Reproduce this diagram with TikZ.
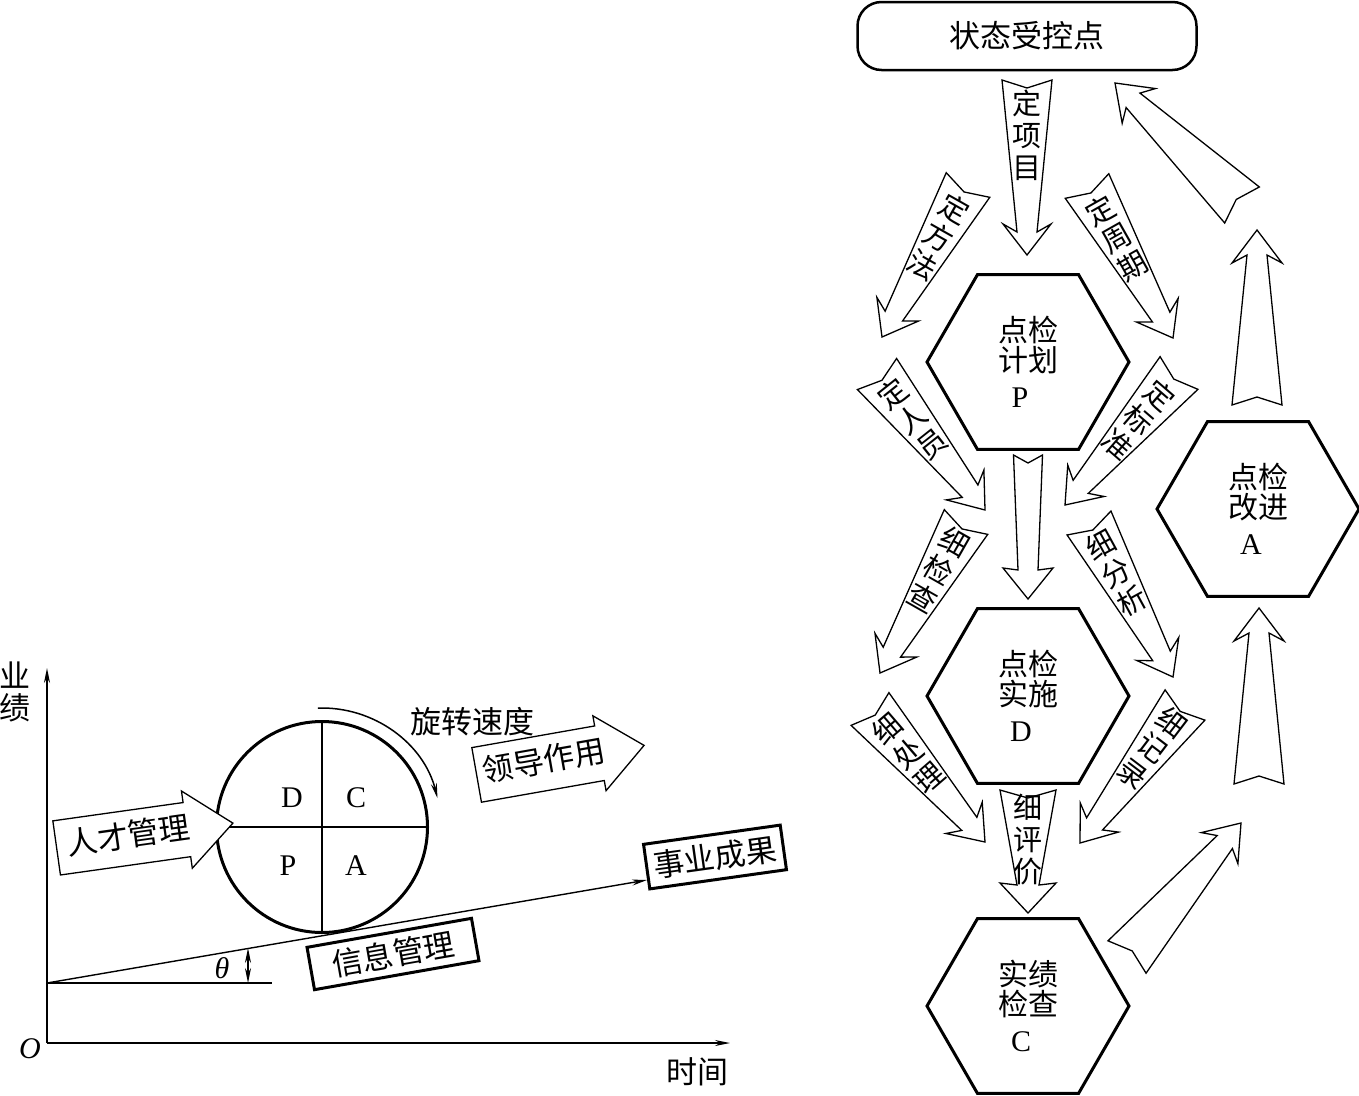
\documentclass[tikz,border=0pt]{standalone}
\usepackage{fontspec}
\setmainfont{Liberation Serif}
\newfontfamily\cjk{Noto Sans CJK SC}
\usetikzlibrary{calc,shapes.geometric,shapes.arrows,arrows.meta}

\newcommand\bigcjk{\cjk\fontsize{31}{32}\selectfont}
\newcommand\hexcjk{\cjk\fontsize{30}{30}\selectfont}
\newcommand\biglat{\fontsize{30}{32}\selectfont}

% tapered block arrow: tail, tip, tail/neck/barb half widths, neck and barb distance from tip
\newcommand\blockarrow[7]{%
  \coordinate (nk) at ($(#2)!#6!(#1)$);
  \coordinate (bb) at ($(#2)!#7!(#1)$);
  \coordinate (nt) at ($(#1)!8pt!(#2)$);
  \draw[barrow] ($(#1)!#3!90:(#2)$) -- ($(nk)!#4!90:(#2)$) -- ($(bb)!#5!90:(#2)$) -- (#2)
    -- ($(bb)!#5!-90:(#2)$) -- ($(nk)!#4!-90:(#2)$) -- ($(#1)!#3!-90:(#2)$) -- (nt) -- cycle;}
% stacked label along an arrow
\newcommand\arrowtext[5]{%
  \path let \p1=($(#3)-(#2)$), \n1={180-atan2(\x1,\y1)} in
    node[lbl, rotate=\n1] (#1) at ($(#2)!#4!(#3)$) {#5};}

\begin{document}
\begin{tikzpicture}[x=1pt, y=-1pt, >={Stealth[length=15pt,width=6pt]},
  hexa/.style={draw, line width=3pt, regular polygon, regular polygon sides=6, minimum size=202pt, inner sep=0pt, align=center, font=\hexcjk},
  barrow/.style={draw, line width=1.3pt, fill=white},
  lbl/.style={align=center, inner sep=0pt, font=\cjk\fontsize{29}{32}\selectfont},
  thinln/.style={line width=1.4pt},
  tagbox/.style={draw, line width=3pt, inner sep=0pt, font=\bigcjk},
  fatarrow/.style={draw, line width=1.3pt, fill=white, single arrow, single arrow tip angle=80, anchor=tail, inner xsep=4pt, text height=23pt, text depth=5pt, font=\bigcjk}]
\useasboundingbox (0,0) rectangle (1359,1095);

% left: performance chart
\coordinate (O) at (47,1043);
\coordinate (ytop) at (47,668);
\coordinate (xend) at (730,1043);
\draw[thinln, ->] (O) -- (ytop);
\draw[thinln, ->] (O) -- (xend);
\node[font=\bigcjk, align=center] (yname) at (15,692) {业\\绩};
\node[font=\biglat] (origin) at (30,1049) {\itshape O};
\node[font=\bigcjk] (xname) at (697,1072) {时间};

\coordinate (base) at (47,983);
\coordinate (baseend) at (272,983);
\coordinate (incl) at (647,880);
\draw[thinln] (base) -- (baseend);
\draw[thinln, ->] (base) -- (incl);
\coordinate (thtop) at (248,948);
\coordinate (thbot) at (248,983);
\draw[thinln, <->] (thtop) -- (thbot);
\node[font=\biglat] (theta) at (222,968) {\itshape θ};

\node[circle, draw, line width=3pt, minimum size=211pt, inner sep=0pt] (pdca) at (322,827) {};
\draw[thinln] (pdca.north) -- (pdca.south);
\draw[thinln] (pdca.west) -- (pdca.east);
\node[font=\biglat] (qD) at (292,798) {D};
\node[font=\biglat] (qC) at (356,798) {C};
\node[font=\biglat] (qP) at (288,866) {P};
\node[font=\biglat] (qA) at (356,866) {A};
\draw[line width=1.5pt, ->] ($(pdca.center)+(92:119pt)$) arc[start angle=92, end angle=14, radius=119pt];
\node[font=\bigcjk] (speed) at (472,722) {旋转速度};

\node[fatarrow, rotate=8, minimum height=178pt, minimum width=78pt, inner ysep=2pt] (talent) at (56,848) {人才管理};
\node[fatarrow, rotate=10, minimum height=170pt, minimum width=76pt, inner ysep=4.5pt] (lead) at (476,775) {领导作用};
\node[tagbox, rotate=10, minimum width=167pt, minimum height=43pt] (info) at (393,954) {信息管理};
\node[tagbox, rotate=8, minimum width=138pt, minimum height=45pt] (result) at (715,857) {事业成果};

% right: inspection cycle
\node[draw, rounded corners=24pt, line width=2.5pt, minimum width=339pt, minimum height=68pt, font=\bigcjk] (state) at (1027,36) {状态受控点};
\node[hexa] (P) at (1028,362) {点检\\计划\\[6pt]{\rmfamily P\hspace*{16pt}}};
\node[hexa] (D) at (1028,696) {点检\\实施\\[6pt]{\rmfamily D\hspace*{14pt}}};
\node[hexa] (C) at (1028,1006) {实绩\\检查\\[6pt]{\rmfamily C\hspace*{14pt}}};
\node[hexa] (A) at (1258,509) {点检\\改进\\[6pt]{\rmfamily A\hspace*{14pt}}};

\coordinate (xiangmuT) at (1027,80);   \coordinate (xiangmuH) at (1027,255);
\coordinate (fangfaT) at (968,185);    \coordinate (fangfaH) at (882,337);
\coordinate (zhouqiT) at (1087,186);   \coordinate (zhouqiH) at (1173,338);
\coordinate (renyuanT) at (877,374);   \coordinate (renyuanH) at (985,510);
\coordinate (biaozhunT) at (1179,373); \coordinate (biaozhunH) at (1065,505);
\coordinate (pdT) at (1028,455);       \coordinate (pdH) at (1028,599);
\coordinate (jianchaT) at (966,522);   \coordinate (jianchaH) at (880,673);
\coordinate (fenxiT) at (1089,523);    \coordinate (fenxiH) at (1173,677);
\coordinate (chuliT) at (870,709);     \coordinate (chuliH) at (985,842);
\coordinate (jiluT) at (1185,705);     \coordinate (jiluH) at (1080,843);
\coordinate (pingjiaT) at (1028,790);  \coordinate (pingjiaH) at (1028,913);
\coordinate (caT) at (1127,957);       \coordinate (caH) at (1241,823);
\coordinate (aupT) at (1259,784);      \coordinate (aupH) at (1259,608);
\coordinate (atopT) at (1257,405);     \coordinate (atopH) at (1257,230);
\coordinate (astateT) at (1242,205);   \coordinate (astateH) at (1115,83);

\blockarrow{xiangmuT}{xiangmuH}{25pt}{10pt}{24pt}{23pt}{31pt}
\blockarrow{fangfaT}{fangfaH}{25pt}{10pt}{24pt}{24pt}{32pt}
\blockarrow{zhouqiT}{zhouqiH}{25pt}{10pt}{24pt}{24pt}{32pt}
\blockarrow{renyuanT}{renyuanH}{25pt}{10pt}{24pt}{24pt}{32pt}
\blockarrow{biaozhunT}{biaozhunH}{25pt}{10pt}{24pt}{24pt}{32pt}
\blockarrow{pdT}{pdH}{14.5pt}{10pt}{25pt}{29pt}{31pt}
\blockarrow{jianchaT}{jianchaH}{25pt}{10pt}{24pt}{24pt}{32pt}
\blockarrow{fenxiT}{fenxiH}{25pt}{10pt}{24pt}{24pt}{32pt}
\blockarrow{chuliT}{chuliH}{25pt}{10pt}{24pt}{24pt}{32pt}
\blockarrow{jiluT}{jiluH}{25pt}{10pt}{24pt}{24pt}{32pt}
\blockarrow{pingjiaT}{pingjiaH}{28pt}{11pt}{28pt}{28pt}{30pt}
\blockarrow{caT}{caH}{25pt}{10pt}{24pt}{25pt}{33pt}
\blockarrow{aupT}{aupH}{25pt}{10pt}{25pt}{25pt}{33pt}
\blockarrow{atopT}{atopH}{25pt}{10pt}{25pt}{25pt}{33pt}
\blockarrow{astateT}{astateH}{25pt}{10pt}{24pt}{25pt}{33pt}

\arrowtext{xiangmu}{xiangmuT}{xiangmuH}{55pt}{定\\项\\目}
\arrowtext{fangfa}{fangfaT}{fangfaH}{60pt}{定\\方\\法}
\arrowtext{zhouqi}{zhouqiT}{zhouqiH}{60pt}{定\\周\\期}
\arrowtext{renyuan}{renyuanT}{renyuanH}{57pt}{定\\人\\员}
\arrowtext{biaozhun}{biaozhunT}{biaozhunH}{62pt}{定\\标\\准}
\arrowtext{jiancha}{jianchaT}{jianchaH}{55pt}{细\\检\\查}
\arrowtext{fenxi}{fenxiT}{fenxiH}{57pt}{细\\分\\析}
\arrowtext{chuli}{chuliT}{chuliH}{58pt}{细\\处\\理}
\arrowtext{jilu}{jiluT}{jiluH}{54pt}{细\\记\\录}
\arrowtext{pingjia}{pingjiaT}{pingjiaH}{50pt}{细\\评\\价}
\end{tikzpicture}
\end{document}
